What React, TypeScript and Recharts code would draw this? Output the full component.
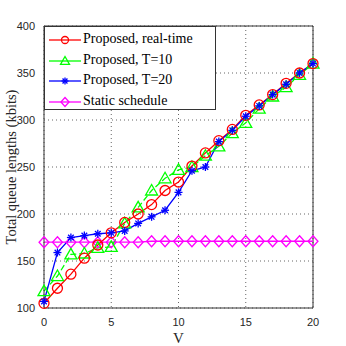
import React from "react";
import { LineChart, Line, XAxis, YAxis, CartesianGrid, ReferenceLine } from "recharts";

// V values on the x axis
const vValues = [0, 1, 2, 3, 4, 5, 6, 7, 8, 9, 10, 11, 12, 13, 14, 15, 16, 17, 18, 19, 20];

// total queue lengths (kbits)
const realTime = [105, 121, 136, 153, 167, 180, 191, 200, 210, 225, 234, 251, 265, 278, 290, 305, 316, 327, 339, 350, 360];
const t10 = [118, 134, 157, 158, 164, 165, 190, 207, 225, 238, 247, 250, 262, 272, 286, 297, 312, 325, 335, 348, 360];
const t20 = [107, 159, 175, 177, 179, 180, 182, 190, 197, 204, 223, 246, 250, 277, 289, 304, 315, 327, 338, 350, 360];
const staticSched = [170, 170, 170, 170, 170, 170, 170, 170, 171, 171, 171, 171, 171, 171, 171, 171, 171, 171, 171, 171, 171];

const xTicks = [0, 5, 10, 15, 20];
const yTicks = [100, 150, 200, 250, 300, 350, 400];

const data = vValues.map((v, i) => ({
  v,
  realTime: realTime[i],
  t10: t10[i],
  t20: t20[i],
  staticSched: staticSched[i],
}));

const SERIF = "'Liberation Serif', 'Times New Roman', serif";
const SANS = "'Liberation Sans', Arial, sans-serif";

type DotProps = { cx?: number; cy?: number; size?: number };

const CircleDot = ({ cx = 0, cy = 0, size = 5 }: DotProps) => (
  <circle cx={cx} cy={cy} r={size} fill="none" stroke="#ff0000" strokeWidth={1.3} />
);

const TriangleDot = ({ cx = 0, cy = 0, size = 6 }: DotProps) => (
  <polygon
    points={`${cx},${cy - size} ${cx - size},${cy + size * 0.75} ${cx + size},${cy + size * 0.75}`}
    fill="none"
    stroke="#00ff00"
    strokeWidth={1.3}
  />
);

const StarDot = ({ cx = 0, cy = 0, size = 4 }: DotProps) => {
  const d = size * 0.7;
  return (
    <g stroke="#0000ff" strokeWidth={1.3}>
      <line x1={cx - size} y1={cy} x2={cx + size} y2={cy} />
      <line x1={cx} y1={cy - size} x2={cx} y2={cy + size} />
      <line x1={cx - d} y1={cy - d} x2={cx + d} y2={cy + d} />
      <line x1={cx - d} y1={cy + d} x2={cx + d} y2={cy - d} />
    </g>
  );
};

const DiamondDot = ({ cx = 0, cy = 0, size = 5.5 }: DotProps) => (
  <polygon
    points={`${cx},${cy - size} ${cx + size * 0.9},${cy} ${cx},${cy + size} ${cx - size * 0.9},${cy}`}
    fill="none"
    stroke="#ff00ff"
    strokeWidth={1.3}
  />
);

const legendItems = [
  { label: "Proposed, real-time", color: "#ff0000", Dot: CircleDot, size: 3.5 },
  { label: "Proposed, T=10", color: "#00ff00", Dot: TriangleDot, size: 4.5 },
  { label: "Proposed, T=20", color: "#0000ff", Dot: StarDot, size: 3.5 },
  { label: "Static schedule", color: "#ff00ff", Dot: DiamondDot, size: 4.5 },
];

function LegendBox() {
  return (
    <div
      style={{
        position: "absolute",
        left: 44,
        top: 26,
        width: 172,
        height: 84,
        background: "#fff",
        border: "1px solid #333",
        boxSizing: "border-box",
        fontFamily: SERIF,
        fontSize: 14,
        color: "#000",
      }}
    >
      {legendItems.map((it, i) => (
        <div key={it.label} style={{ position: "absolute", left: 0, top: 3 + i * 20.5, height: 20, width: 170 }}>
          <svg width={36} height={20} style={{ position: "absolute", left: 3, top: 0 }}>
            <line x1={1} y1={10} x2={33} y2={10} stroke={it.color} strokeWidth={1.3} />
            <it.Dot cx={17} cy={10} size={it.size} />
          </svg>
          <span style={{ position: "absolute", left: 38, top: 1, whiteSpace: "nowrap" }}>{it.label}</span>
        </div>
      ))}
    </div>
  );
}

export default function App() {
  const tickStyle = { fontFamily: SANS, fontSize: 11, fill: "#262626" };
  return (
    <div style={{ position: "absolute", left: 0, top: 0, width: 346, height: 346, background: "#fff" }}>
      <LineChart width={346} height={346} data={data} margin={{ top: 26, right: 33, bottom: 0, left: 0 }}>
        <CartesianGrid stroke="#666" strokeDasharray="1 3" />
        <XAxis
          dataKey="v"
          type="number"
          domain={[0, 20]}
          ticks={xTicks}
          height={38}
          tickLine={false}
          axisLine={{ stroke: "#333" }}
          tick={tickStyle}
          tickMargin={4}
          label={{ value: "V", position: "insideBottom", offset: 3, style: { fontFamily: SERIF, fontSize: 15, fill: "#262626" } }}
        />
        <YAxis
          type="number"
          domain={[100, 400]}
          ticks={yTicks}
          width={44}
          tickLine={false}
          axisLine={{ stroke: "#333" }}
          tick={tickStyle}
          tickMargin={3}
          label={{
            value: "Total queue lengths (kbits)",
            angle: -90,
            position: "insideLeft",
            offset: 11,
            style: { fontFamily: SERIF, fontSize: 14.5, fill: "#262626", textAnchor: "middle" },
          }}
        />
        <ReferenceLine y={400} stroke="#333" />
        <ReferenceLine x={20} stroke="#333" />
        <Line
          dataKey="staticSched"
          stroke="#ff00ff"
          strokeWidth={1.3}
          isAnimationActive={false}
          dot={(p: any) => <DiamondDot key={p.index} cx={p.cx} cy={p.cy} />}
        />
        <Line
          dataKey="t10"
          stroke="#00ff00"
          strokeWidth={1.3}
          strokeDasharray="6 3"
          isAnimationActive={false}
          dot={(p: any) => <TriangleDot key={p.index} cx={p.cx} cy={p.cy} />}
        />
        <Line
          dataKey="realTime"
          stroke="#ff0000"
          strokeWidth={1.3}
          isAnimationActive={false}
          dot={(p: any) => <CircleDot key={p.index} cx={p.cx} cy={p.cy} />}
        />
        <Line
          dataKey="t20"
          stroke="#0000ff"
          strokeWidth={1.3}
          isAnimationActive={false}
          dot={(p: any) => <StarDot key={p.index} cx={p.cx} cy={p.cy} />}
        />
      </LineChart>
      <LegendBox />
    </div>
  );
}
